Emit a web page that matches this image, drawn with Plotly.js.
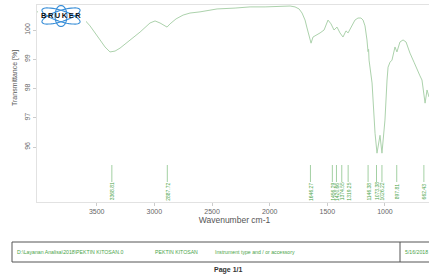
<!DOCTYPE html>
<html><head><meta charset="utf-8">
<script src="https://cdn.plot.ly/plotly-3.0.1.min.js"></script>
<style>html,body{margin:0;padding:0;background:#fff;overflow:hidden;width:429px;height:274px}#chart{width:432px;height:274px}</style>
</head><body><div id="chart"></div>
<script>
// Spectrum (wavenumber cm-1, transmittance %)
const wavenumber = [4018,3900,3780,3700,3619,3558,3471,3428,3385,3341,3298,3211,3124,3038,2994,2951,2908,2890,2864,2812,2751,2691,2604,2456,2300,2170,2040,1884,1823,1780,1745,1719,1693,1676,1650,1641,1624,1589,1563,1528,1494,1468,1442,1416,1390,1364,1338,1320,1294,1260,1234,1208,1190,1173,1156,1147,1142,1138,1112,1103,1086,1069,1051,1043,1026,1008,1000,982,973,956,939,913,896,870,843,817,783,748,722,696,679,661,652,635,618,592];
const transmittance = [100.62,100.64,100.6,100.55,100.41,100.14,99.66,99.42,99.25,99.28,99.38,99.66,99.93,100.24,100.31,100.24,100.14,100.10,100.21,100.38,100.51,100.58,100.62,100.72,100.75,100.79,100.79,100.82,100.82,100.79,100.72,100.58,100.34,100.07,99.66,99.55,99.76,99.83,99.90,100.0,100.34,100.21,100.0,100.10,99.90,99.76,99.97,99.90,100.07,100.34,100.41,100.41,100.34,100.14,99.66,99.26,99.34,98.97,98.19,97.43,96.47,95.79,96.34,96.40,95.79,96.58,96.92,98.29,98.73,98.90,98.97,99.42,99.25,99.59,99.66,99.59,99.21,98.90,98.63,98.43,98.29,97.77,97.50,97.95,97.71,97.60];
// Peak picks
const peakPositions = [3368.81,2887.72,1646.27,1456.29,1420.66,1374.55,1319.25,1146.38,1073.38,1026.22,897.81,662.43];
const peakLabels = ["3368.81","2887.72","1646.27","1456.29","1420.66","1374.55","1319.25","1146.38","1073.38","1026.22","897.81","662.43"];
const xTicks = [3500,3000,2500,2000,1500,1000];
const yTicks = [96,97,98,99,100];
const footerTexts = ["D:\\Layanan Analisa\\2018\\PEKTIN KITOSAN.0","PEKTIN KITOSAN","Instrument type and / or accessory","5/16/2018"];

// pixel helpers for decoration (plot area: x 37..432, y 5..202)
const PL=37, PW=395, PB=202, PH=197;
const px = x => (x-PL)/PW;
const py = y => (PB-y)/PH;

function ellipse(cx, cy, a, b, deg){
  const r = deg*Math.PI/180; let d='';
  for(let i=0;i<=48;i++){
    const t = i/48*2*Math.PI;
    const x = cx + a*Math.cos(t)*Math.cos(r) - b*Math.sin(t)*Math.sin(r);
    const y = cy + a*Math.cos(t)*Math.sin(r) + b*Math.sin(t)*Math.cos(r);
    d += (i===0?'M':'L') + px(x).toFixed(4) + ',' + py(y).toFixed(4);
  }
  return d+'Z';
}

const shapes = [];
const annotations = [];
const green = '#4aa54a';
// peak label lines
peakPositions.forEach((p,i)=>{
  shapes.push({type:'line', xref:'x', yref:'paper', x0:p, x1:p, y0:py(165), y1:py(182),
    line:{color:'#8cc48c', width:0.8}});
  annotations.push({xref:'x', yref:'paper', x:p, y:py(191.5), text:peakLabels[i], textangle:-90,
    showarrow:false, xanchor:'center', yanchor:'middle', font:{family:'Liberation Sans', size:5, color:green}});
});
// logo
shapes.push({type:'rect', xref:'paper', yref:'paper', x0:px(38), x1:px(86), y0:py(28), y1:py(6), fillcolor:'#fff', line:{width:0}, layer:'above'});
shapes.push({type:'path', xref:'paper', yref:'paper', path:ellipse(61,16,20,5.5,18), line:{color:'#3a8fd8', width:1.1}, layer:'above'});
shapes.push({type:'path', xref:'paper', yref:'paper', path:ellipse(61,16,20,5.5,-18), line:{color:'#3a8fd8', width:1.1}, layer:'above'});
shapes.push({type:'path', xref:'paper', yref:'paper', path:ellipse(61,16,6,10.5,0), line:{color:'#3a8fd8', width:1.1}, layer:'above'});
annotations.push({xref:'paper', yref:'paper', x:px(60.5), y:py(16), text:'<b>B\u2009R\u2009U\u2009K\u2009E\u2009R</b>', showarrow:false,
  xanchor:'center', yanchor:'middle', font:{family:'Liberation Sans', size:7.5, color:'#111'}, bgcolor:'rgba(255,255,255,0)'});
// y title
annotations.push({xref:'paper', yref:'paper', x:px(15), y:py(78), text:'Transmittance [%]', textangle:-90, showarrow:false,
  xanchor:'center', yanchor:'middle', font:{family:'Liberation Sans', size:7, color:'#555'}});
// footer box
shapes.push({type:'rect', xref:'paper', yref:'paper', x0:px(12), x1:px(440), y0:py(262), y1:py(242), line:{color:'#555', width:1}});
shapes.push({type:'line', xref:'paper', yref:'paper', x0:px(400), x1:px(400), y0:py(262), y1:py(242), line:{color:'#555', width:1}});
const footerX = [15,153,213,403];
footerTexts.forEach((t,i)=>{
  annotations.push({xref:'paper', yref:'paper', x:px(footerX[i]), y:py(252), text:t, showarrow:false,
    xanchor:'left', yanchor:'middle', font:{family:'Liberation Sans', size:5.2, color:green}});
});
annotations.push({xref:'paper', yref:'paper', x:px(228), y:py(270), text:'<b>Page 1/1</b>', showarrow:false,
  xanchor:'center', yanchor:'middle', font:{family:'Liberation Sans', size:7, color:'#333'}});

const data = [{x:wavenumber, y:transmittance, type:'scatter', mode:'lines',
  line:{color:'#acd2ac', width:1}, hoverinfo:'skip'}];

const layout = {
  width:432, height:274, margin:{l:37, r:0, t:5, b:72},
  paper_bgcolor:'#fff', plot_bgcolor:'#fff', showlegend:false,
  font:{family:'Liberation Sans', color:'#666'},
  xaxis:{range:[4018,592], tickvals:xTicks, ticktext:xTicks.map(String), showgrid:false, zeroline:false,
    showline:true, linecolor:'#e2e2e2', linewidth:1, mirror:true, ticks:'outside', ticklen:3, tickcolor:'#ccc',
    tickfont:{size:7, color:'#666'},
    title:{text:'Wavenumber cm-1', font:{size:8.5, color:'#555'}, standoff:2}},
  yaxis:{range:[94.12,100.855], tickvals:yTicks, ticktext:yTicks.map(String), tickangle:-90, showgrid:false, zeroline:false,
    showline:true, linecolor:'#e2e2e2', linewidth:1, mirror:true, ticks:'outside', ticklen:3, tickcolor:'#ccc',
    tickfont:{size:7, color:'#666'}},
  shapes:shapes, annotations:annotations
};
Plotly.newPlot('chart', data, layout, {staticPlot:true, displayModeBar:false});
</script></body></html>
